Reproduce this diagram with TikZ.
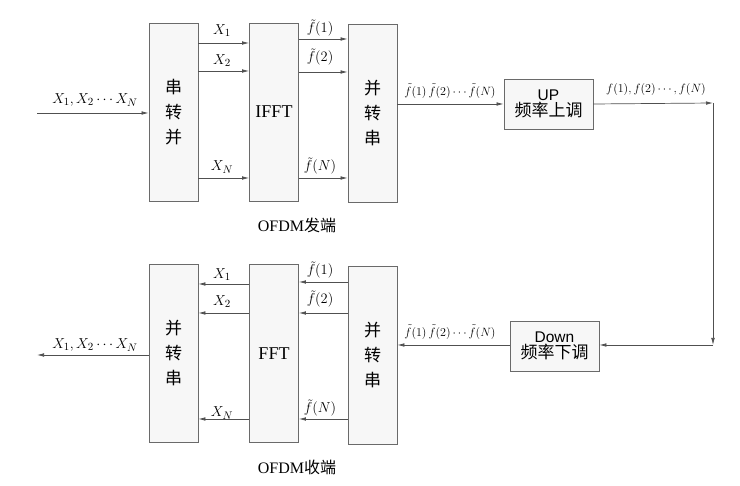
\documentclass[tikz,border=0pt]{standalone}
\usepackage{fontspec}
\setmainfont{Liberation Serif}
\newfontfamily\cjk{Noto Sans CJK SC}
\newfontfamily\sfont{Liberation Sans}
\usetikzlibrary{arrows.meta}
\definecolor{boxfill}{HTML}{F7F7F7}
\definecolor{boxline}{HTML}{6A6A6A}
\definecolor{wire}{HTML}{505050}
\tikzset{
  blk/.style={draw=boxline, fill=boxfill, line width=0.8pt, inner sep=0pt, align=center},
  tall/.style={blk, minimum width=49pt, minimum height=178pt},
  wide/.style={blk, minimum width=89pt, minimum height=50pt},
  cjkv/.style={font=\cjk\fontsize{17}{25}\selectfont},
  wirearrow/.style={draw=wire, line width=0.7pt, -{Latex[length=7pt,width=3.6pt]}},
  lbl/.style={inner sep=0pt, font=\fontsize{15.5}{17}\selectfont},
  slbl/.style={inner sep=0pt, font=\fontsize{12.5}{14}\selectfont},
  captext/.style={inner sep=0pt, font=\fontsize{16}{18}\selectfont},
}
\begin{document}
\begin{tikzpicture}[x=1pt,y=-1pt]
\useasboundingbox (0,0) rectangle (740,486);
% top row
\node[tall, cjkv] (s2p) at (173.5,112) {串\\转\\并};
\node[tall, font=\fontsize{18}{20}\selectfont] (ifft) at (274,112) {IFFT};
\node[tall, cjkv] (ps1) at (372.5,113.5) {并\\转\\串};
\node[wide] (up) at (548.5,104) {\sfont\fontsize{15.5}{19}\selectfont UP\\[1pt]\cjk\fontsize{17}{19}\selectfont 频率上调};
% bottom row
\node[tall, cjkv] (ps2) at (173.5,353.5) {并\\转\\串};
\node[tall, font=\fontsize{18}{20}\selectfont] (fft) at (274,353.5) {FFT};
\node[tall, cjkv] (ps3) at (372.5,355) {并\\转\\串};
\node[wide] (down) at (554.5,346) {\sfont\fontsize{15.5}{19}\selectfont Down\\[1pt]\cjk\fontsize{17}{19}\selectfont 频率下调};

% row coordinates
\coordinate (in) at (37,113);
\coordinate (out) at (37,355);
\coordinate (ta) at (0,43);
\coordinate (tb) at (0,71);
\coordinate (tc) at (0,178);
\coordinate (fa) at (0,39);
\coordinate (fb) at (0,72);
\coordinate (fc) at (0,178);
\coordinate (ba) at (0,284);
\coordinate (bb) at (0,313);
\coordinate (bc) at (0,419);
\coordinate (ga) at (0,282);
\coordinate (gb) at (0,313);
\coordinate (gc) at (0,419);
\coordinate (c1) at (713,103);
\coordinate (c2) at (713,345);

% top connectors
\draw[wirearrow] (in) -- (s2p.west |- in);
\draw[wirearrow] (s2p.east |- ta) -- (ifft.west |- ta);
\draw[wirearrow] (s2p.east |- tb) -- (ifft.west |- tb);
\draw[wirearrow] (s2p.east |- tc) -- (ifft.west |- tc);
\draw[wirearrow] (ifft.east |- fa) -- (ps1.west |- fa);
\draw[wirearrow] (ifft.east |- fb) -- (ps1.west |- fb);
\draw[wirearrow] (ifft.east |- fc) -- (ps1.west |- fc);
\draw[wirearrow] (ps1.east |- up.west) -- (up.west);
\draw[wirearrow] (up.east) -- (c1);
\draw[wirearrow] (c1) -- (c2);
\draw[wirearrow] (c2) -- (c2 -| down.east);
\draw[wirearrow] (down.west |- c2) -- (ps3.east |- c2);
% bottom connectors
\draw[wirearrow] (fft.west |- ba) -- (ps2.east |- ba);
\draw[wirearrow] (fft.west |- bb) -- (ps2.east |- bb);
\draw[wirearrow] (fft.west |- bc) -- (ps2.east |- bc);
\draw[wirearrow] (ps3.west |- ga) -- (fft.east |- ga);
\draw[wirearrow] (ps3.west |- gb) -- (fft.east |- gb);
\draw[wirearrow] (ps3.west |- gc) -- (fft.east |- gc);
\draw[wirearrow] (ps2.west |- out) -- (out);

% labels
\node[lbl] (lin) at (95,100) {$X_1, X_2\cdots X_N$};
\node[lbl] (l1) at (222,31) {$X_1$};
\node[lbl] (l2) at (222,61) {$X_2$};
\node[lbl] (l3) at (222,167) {$X_N$};
\node[lbl] (m1) at (320,28) {$\tilde{f}(1)$};
\node[lbl] (m2) at (320,57) {$\tilde{f}(2)$};
\node[lbl] (m3) at (320,166) {$\tilde{f}(N)$};
\node[slbl] (lu) at (450,91) {$\tilde{f}(1)\,\tilde{f}(2)\cdots\tilde{f}(N)$};
\node[slbl] (lo) at (656,90) {$f(1), f(2)\cdots, f(N)$};
\node[captext] (t1) at (297,225) {OFDM{\cjk 发端}};

\node[lbl] (lout) at (95,345) {$X_1, X_2\cdots X_N$};
\node[lbl] (k1) at (222,275) {$X_1$};
\node[lbl] (k2) at (222,302) {$X_2$};
\node[lbl] (k3) at (222,413) {$X_N$};
\node[lbl] (n1) at (320,270) {$\tilde{f}(1)$};
\node[lbl] (n2) at (320,299) {$\tilde{f}(2)$};
\node[lbl] (n3) at (320,408) {$\tilde{f}(N)$};
\node[slbl] (ld) at (450,332) {$\tilde{f}(1)\,\tilde{f}(2)\cdots\tilde{f}(N)$};
\node[captext] (t2) at (297,467) {OFDM{\cjk 收端}};
\end{tikzpicture}
\end{document}
